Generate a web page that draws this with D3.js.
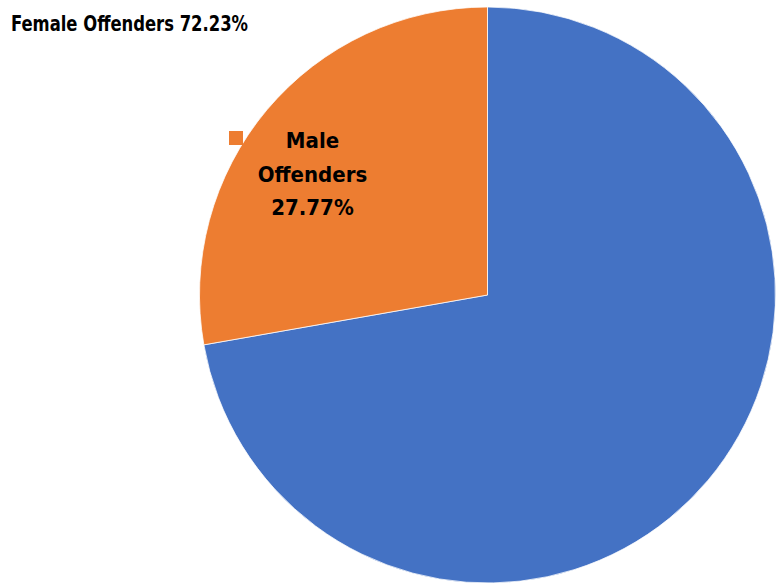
<!DOCTYPE html>
<html>
<head>
<meta charset="utf-8">
<script src="https://cdn.jsdelivr.net/npm/d3@7/dist/d3.min.js"></script>
<style>
  html, body { margin: 0; padding: 0; background: #fff; }
  svg text { font-family: "Liberation Sans Narrow", "DejaVu Sans Condensed", "Open Sans", sans-serif; font-weight: bold; fill: #000; }
</style>
</head>
<body>
<svg id="chart" width="779" height="585"></svg>
<script>
// Share of offenders by sex (percent)
const categories = ["Female Offenders", "Male Offenders"];
const values = [72.23, 27.77];
const colors = ["#4472C4", "#ED7D31"];

const svg = d3.select("#chart");
const cx = 487.5, cy = 295, radius = 288;

const pie = d3.pie().sort(null).value(d => d.value);
const arcs = pie(categories.map((c, i) => ({ name: c, value: values[i], color: colors[i] })));
const arc = d3.arc().innerRadius(0).outerRadius(radius);

const g = svg.append("g").attr("transform", `translate(${cx},${cy})`);
g.selectAll("path")
  .data(arcs)
  .join("path")
  .attr("d", arc)
  .attr("fill", d => d.data.color)
  .attr("stroke", "#fff")
  .attr("stroke-width", 0.75);

const fmt = v => v.toFixed(2) + "%";

// Female label sits outside the pie, top-left (condensed to a fixed run length)
svg.append("text")
  .attr("x", 11)
  .attr("y", 31)
  .attr("font-size", 22)
  .attr("textLength", 237)
  .attr("lengthAdjust", "spacingAndGlyphs")
  .text(`${categories[0]} ${fmt(values[0])}`);

// Male label: legend key plus three stacked lines inside the orange slice
svg.append("rect")
  .attr("x", 229).attr("y", 131)
  .attr("width", 14).attr("height", 14)
  .attr("fill", colors[1]);

const maleLines = ["Male", "Offenders", fmt(values[1])];
svg.append("text")
  .attr("text-anchor", "middle")
  .attr("font-size", 22)
  .selectAll("tspan")
  .data(maleLines)
  .join("tspan")
  .attr("x", 312.5)
  .attr("y", (d, i) => 148 + i * 33.5)
  .text(d => d);
</script>
</body>
</html>
